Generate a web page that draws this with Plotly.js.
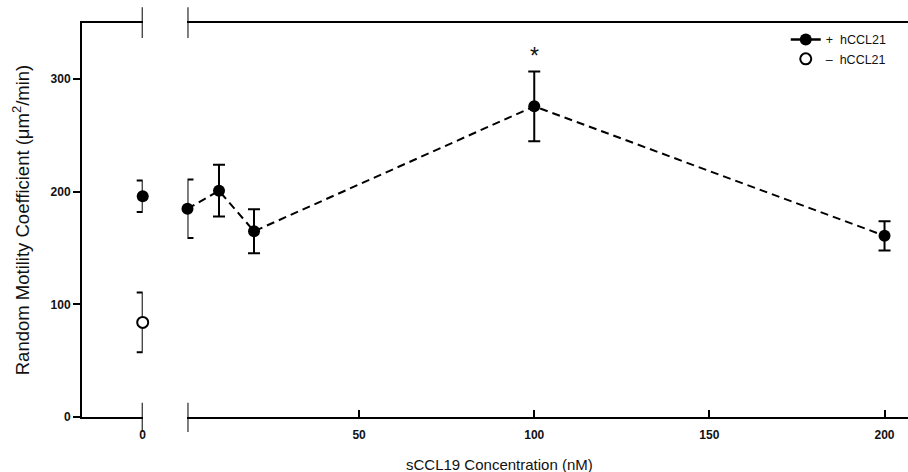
<!DOCTYPE html>
<html>
<head>
<meta charset="utf-8">
<script src="https://cdn.plot.ly/plotly-3.0.1.min.js"></script>
<style>html,body{margin:0;padding:0;background:#fff;}#chart{width:908px;height:472px;}</style>
</head>
<body>
<div id="chart"></div>
<script>
// ---- data ----
const zeroConc = [0];                       // control, shown on the broken-off axis segment
const zeroWithCCL21 = [196];
const zeroWithCCL21Err = [14];
const zeroWithoutCCL21 = [84];
const zeroWithoutCCL21Err = [26.5];

const concentrations = [1, 10, 20, 100, 200];          // sCCL19 (nM)
const withCCL21 = [185, 201, 165, 276, 161];
const withCCL21Err = [26, 23, 19.5, 31, 13];

const xTickVals = [50, 100, 150, 200];
const xTickText = ['50', '100', '150', '200'];
const yTickVals = [0, 100, 200, 300];
const yTickText = ['0', '100', '200', '300'];

const starX = [100];
const starY = [321];

const legendNames = ['+\u00a0\u00a0hCCL21', '\u2013\u00a0\u00a0hCCL21'];

// ---- styling ----
const tickFont = {family: 'Liberation Sans Narrow, Liberation Sans, Arial', size: 12, color: '#111', weight: 'bold'};
const titleFont = {family: 'Liberation Sans, Arial', size: 18.5, color: '#111'};
const leftRange = [-1, 0];
const mainRange = [1, 206.7];

const errStyle = {type: 'data', visible: true, thickness: 2, width: 6, color: '#000'};

const traces = [
  {
    x: concentrations, y: withCCL21, xaxis: 'x2', yaxis: 'y',
    type: 'scatter', mode: 'lines+markers', name: legendNames[0], showlegend: false,
    line: {color: '#000', width: 2, dash: '8px,5px'},
    marker: {color: '#000', size: 12, symbol: 'circle'},
    error_y: Object.assign({array: withCCL21Err}, errStyle),
    cliponaxis: false
  },
  {
    x: zeroConc, y: zeroWithCCL21, xaxis: 'x', yaxis: 'y',
    type: 'scatter', mode: 'markers', name: legendNames[0], showlegend: false,
    marker: {color: '#000', size: 12, symbol: 'circle'},
    error_y: Object.assign({array: zeroWithCCL21Err}, errStyle),
    cliponaxis: false
  },
  // legend key for the +hCCL21 series (solid short line with marker, as in the reference key)
  {
    x: [null], y: [null], xaxis: 'x2', yaxis: 'y',
    type: 'scatter', mode: 'lines+markers', name: legendNames[0],
    line: {color: '#000', width: 2.5},
    marker: {color: '#000', size: 12, symbol: 'circle'}
  },
  {
    x: zeroConc, y: zeroWithoutCCL21, xaxis: 'x', yaxis: 'y',
    type: 'scatter', mode: 'markers', name: legendNames[1],
    marker: {color: '#fff', size: 11, symbol: 'circle', line: {color: '#000', width: 2}},
    error_y: Object.assign({array: zeroWithoutCCL21Err}, errStyle),
    cliponaxis: false
  }
];

function breakMark(xref, xval, y0, y1) {
  return {type: 'line', xref: xref, yref: 'paper', x0: xval, x1: xval, y0: y0, y1: y1,
          line: {color: '#000', width: 2}};
}

const layout = {
  width: 908, height: 472,
  margin: {l: 82, r: 0, t: 23, b: 55},
  paper_bgcolor: '#fff', plot_bgcolor: '#fff',
  showlegend: true,
  legend: {x: 0.852, xanchor: 'left', y: 0.995, yanchor: 'top',
           bgcolor: 'rgba(0,0,0,0)', font: {family: 'Liberation Sans, Arial', size: 12.5, color: '#111'},
           tracegroupgap: 0, itemwidth: 30},
  xaxis: {
    domain: [0, 0.0735], range: leftRange, anchor: 'y',
    showline: true, linewidth: 2, linecolor: '#000', mirror: true,
    showgrid: false, zeroline: false,
    tickmode: 'array', tickvals: zeroConc, ticktext: ['0'], ticks: '',
    ticklabelstandoff: 6,
    tickfont: tickFont
  },
  xaxis2: {
    domain: [0.1277, 1], range: mainRange, anchor: 'y',
    showline: true, linewidth: 2, linecolor: '#000', mirror: true,
    showgrid: false, zeroline: false,
    tickmode: 'array', tickvals: xTickVals, ticktext: xTickText,
    ticks: 'inside', ticklen: 7, tickwidth: 2, tickcolor: '#000',
    ticklabelstandoff: 6,
    tickfont: tickFont
  },
  yaxis: {
    domain: [0, 1], range: [0, 350], anchor: 'x',
    showline: true, linewidth: 2, linecolor: '#000',
    showgrid: false, zeroline: false,
    tickmode: 'array', tickvals: yTickVals, ticktext: yTickText,
    ticks: 'outside', ticklen: 7, tickwidth: 2, tickcolor: '#000',
    tickfont: tickFont,
    title: {text: 'Random Motility Coefficient (\u03bcm<sup>2</sup>/min)', font: titleFont, standoff: 16}
  },
  shapes: [
    breakMark('x', leftRange[1], -0.038, 0.036),
    breakMark('x2', mainRange[0], -0.038, 0.036),
    breakMark('x', leftRange[1], 0.962, 1.04),
    breakMark('x2', mainRange[0], 0.962, 1.04)
  ],
  annotations: [
    {xref: 'x2', yref: 'y', x: starX[0], y: starY[0], text: '*', showarrow: false,
     font: {family: 'Liberation Sans, Arial', size: 23, color: '#111'}},
    {xref: 'paper', yref: 'paper', x: 0.506, y: -0.12, yanchor: 'middle', xanchor: 'center',
     text: 'sCCL19 Concentration (nM)', showarrow: false,
     font: {family: 'Liberation Sans Narrow, Liberation Sans, Arial', size: 15, color: '#111'}}
  ]
};

Plotly.newPlot('chart', traces, layout, {displayModeBar: false, staticPlot: true});
</script>
</body>
</html>
